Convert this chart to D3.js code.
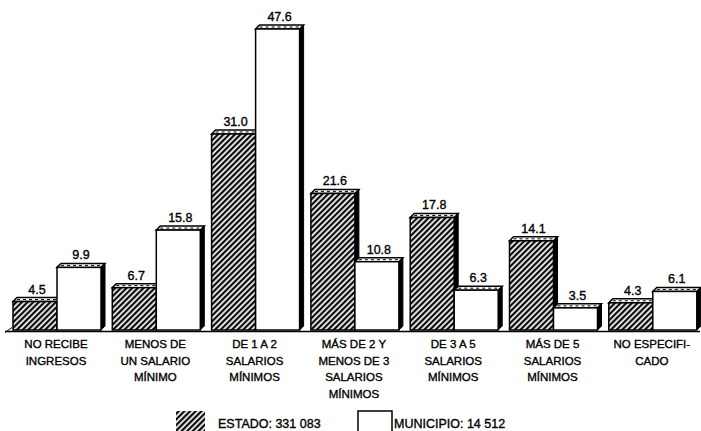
<!DOCTYPE html>
<html><head><meta charset="utf-8">
<script src="https://cdn.jsdelivr.net/npm/d3@7"></script>
<style>
html,body{margin:0;padding:0;background:#fff;}
svg{display:block;font-family:"Liberation Sans",Arial,Helvetica,sans-serif;}
svg text{stroke:#000;stroke-width:0.35px;}
</style></head>
<body>
<svg id="c" width="701" height="431"></svg>
<script>
const categories = [
  ["NO RECIBE","INGRESOS"],
  ["MENOS DE","UN SALARIO","MÍNIMO"],
  ["DE 1 A 2","SALARIOS","MÍNIMOS"],
  ["MÁS DE 2 Y","MENOS DE 3","SALARIOS","MÍNIMOS"],
  ["DE 3 A 5","SALARIOS","MÍNIMOS"],
  ["MÁS DE 5","SALARIOS","MÍNIMOS"],
  ["NO ESPECIFI-","CADO"]
];
const estado = [4.5, 6.7, 31.0, 21.6, 17.8, 14.1, 4.3];
const municipio = [9.9, 15.8, 47.6, 10.8, 6.3, 3.5, 6.1];
const seriesNames = ["estado","municipio"];
const legendLabels = ["ESTADO: 331 083","MUNICIPIO: 14 512"];

const svg = d3.select("#c");
const defs = svg.append("defs");
const pat = defs.append("pattern").attr("id","hatch").attr("patternUnits","userSpaceOnUse")
  .attr("width",4).attr("height",4).attr("patternTransform","rotate(45)");
pat.append("rect").attr("width",4).attr("height",4).attr("fill","#fff");
pat.append("line").attr("x1",1.2).attr("y1",0).attr("x2",1.2).attr("y2",4)
  .attr("stroke","#000").attr("stroke-width",2.2);

const baseY = 330;
const y = d3.scaleLinear().domain([0, 47.6]).range([baseY, 29]);
const idx = d3.range(categories.length);
const x0 = d3.scaleBand().domain(idx).range([13, 13 + 99.3*6.93]).paddingInner(0.07).paddingOuter(0);
const x1 = d3.scaleBand().domain(seriesNames).range([0, 88]).padding(0);
const dx = 4, dy = 4;

// floor
const g0 = svg.append("g");
g0.append("line").attr("x1",5).attr("x2",700).attr("y1",331.5).attr("y2",331.5)
  .attr("stroke","#000").attr("stroke-width",1.3);
g0.append("line").attr("x1",5).attr("y1",332.5).attr("x2",12).attr("y2",327.5)
  .attr("stroke","#000").attr("stroke-width",1);

const data = [];
idx.forEach(i => {
  data.push({i, s:"estado", v: estado[i]});
  data.push({i, s:"municipio", v: municipio[i]});
});

const bars = svg.append("g").selectAll("g").data(data).join("g");
bars.each(function(d){
  const g = d3.select(this);
  const xl = x0(d.i) + x1(d.s), w = x1.bandwidth();
  const yt = y(d.v);
  const fill = d.s === "estado" ? "url(#hatch)" : "#fff";
  g.append("path").attr("d", `M${xl+w},${yt} L${xl+w+dx},${yt-dy} L${xl+w+dx},${baseY-dy} L${xl+w},${baseY} Z`)
    .attr("fill","#000").attr("stroke","#000").attr("stroke-width",1);
  g.append("path").attr("d", `M${xl},${yt} L${xl+dx},${yt-dy} L${xl+w+dx},${yt-dy} L${xl+w},${yt} Z`)
    .attr("fill","#fff").attr("stroke","#000").attr("stroke-width",1.5);
  g.append("line").attr("x1",xl+dx).attr("x2",xl+w).attr("y1",yt-dy/2).attr("y2",yt-dy/2)
    .attr("stroke","#000").attr("stroke-width",1).attr("stroke-dasharray","3,3");
  g.append("rect").attr("x",xl).attr("y",yt).attr("width",w).attr("height",baseY-yt)
    .attr("fill",fill).attr("stroke","#000").attr("stroke-width",1.5);
  g.append("text").attr("x", xl + w/2 + 2).attr("y", yt - dy - 4)
    .attr("text-anchor","middle").attr("font-size",12.5).attr("fill","#000")
    .text(d3.format(".1f")(d.v));
});

const lab = svg.append("g").selectAll("text").data(idx).join("text")
  .attr("text-anchor","middle").attr("font-size",11.5).attr("fill","#000")
  .attr("x", i => x0(i) + 43).attr("y", 348);
lab.each(function(i){
  const t = d3.select(this);
  categories[i].forEach((l,k) => t.append("tspan").attr("x", x0(i)+43).attr("y", 348 + k*16.7).text(l));
});

const lg = svg.append("g");
lg.append("rect").attr("x",176).attr("y",411).attr("width",29).attr("height",20).attr("fill","url(#hatch)");
lg.append("text").attr("x",218).attr("y",428).attr("font-size",12.5).text(legendLabels[0]);
lg.append("path").attr("d","M358,431 L358,411 L392,411 L392,431").attr("fill","#fff").attr("stroke","#000").attr("stroke-width",1.5);
lg.append("text").attr("x",394).attr("y",428).attr("font-size",12.5).text(legendLabels[1]);
</script>
</body></html>
